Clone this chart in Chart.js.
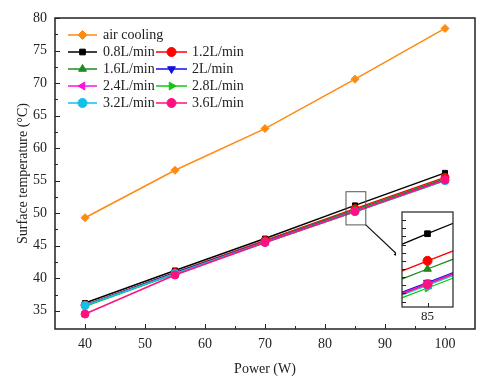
<!DOCTYPE html>
<html lang="en">
<head>
  <meta charset="UTF-8" />
  <title>Surface temperature vs power</title>
  <script src="https://cdn.jsdelivr.net/npm/chart.js@4.4.1/dist/chart.umd.min.js"></script>
  <style>
    body { margin: 0; background: #fff; }
    #wrap { position: relative; width: 483px; height: 384px; }
    #main { position: absolute; left: 0; top: 0; }
    #inset { position: absolute; left: 396px; top: 206px; background: #fff; }
  </style>
</head>
<body>
<div id="wrap">
  <canvas id="main" width="483" height="384"></canvas>
  <canvas id="inset" width="64" height="120"></canvas>
</div>
<script>
  // data
  const power = [40, 55, 70, 85, 100];
  const seriesNames = ['air cooling', '0.8L/min', '1.2L/min', '1.6L/min', '2L/min',
                       '2.4L/min', '2.8L/min', '3.2L/min', '3.6L/min'];
  const airCooling = [49.3, 56.6, 63.0, 70.6, 78.4];
  const flow08 = [36.2, 41.2, 46.1, 51.2, 56.2];
  const flow12 = [35.9, 40.9, 45.8, 50.7, 55.5];
  const flow16 = [35.8, 40.8, 45.7, 50.55, 55.3];
  const flow20 = [35.8, 40.8, 45.6, 50.3, 55.1];
  const flow24 = [35.8, 40.7, 45.6, 50.28, 55.1];
  const flow28 = [35.7, 40.7, 45.5, 50.2, 55.0];
  const flow32 = [35.8, 40.7, 45.5, 50.25, 55.0];
  const flow36 = [34.5, 40.5, 45.5, 50.27, 55.1];

  const xTicks = [40, 50, 60, 70, 80, 90, 100];
  const xMinor = [45, 55, 65, 75, 85, 95];
  const yTicks = [35, 40, 45, 50, 55, 60, 65, 70, 75, 80];
  const yMinor = [37.5, 42.5, 47.5, 52.5, 57.5, 62.5, 67.5, 72.5, 77.5];
  const insetXTicks = [85];
  const insetYTicks = [49.95, 50.1, 50.25, 50.4, 50.55, 50.7, 50.85, 51.0, 51.15, 51.3, 51.45];

  const values = [airCooling, flow08, flow12, flow16, flow20, flow24, flow28, flow32, flow36];
  const colors = ['#ff8a10', '#000000', '#ff0000', '#1f8a1f', '#1010e0',
                  '#ff10e0', '#10c810', '#10c0e8', '#ff1080'];
  const styles = ['rectRot', 'rect', 'circle', 'triangle', 'triangle',
                  'triangle', 'triangle', 'circle', 'circle'];
  const rotations = [0, 0, 0, 0, 180, 270, 90, 0, 0];

  const serif = "'Liberation Serif', 'Times New Roman', serif";
  Chart.defaults.font.family = serif;
  Chart.defaults.color = '#222';

  function makeDatasets(radius, width) {
    return seriesNames.map((name, i) => ({
      label: name,
      data: power.map((p, j) => ({ x: p, y: values[i][j] })),
      borderColor: colors[i],
      backgroundColor: colors[i],
      pointBackgroundColor: colors[i],
      pointBorderColor: colors[i],
      pointStyle: styles[i],
      pointRotation: rotations[i],
      pointRadius: styles[i] === 'rect' ? radius - 0.5 : radius,
      pointBorderWidth: 1,
      borderWidth: width,
      order: seriesNames.length - i,
      clip: 0
    }));
  }

  // box frame + inward tick marks
  const frameTicks = {
    id: 'frameTicks',
    afterDraw(chart, args, o) {
      const { ctx, chartArea: a, scales: { x, y } } = chart;
      ctx.save();
      ctx.strokeStyle = '#222';
      ctx.lineWidth = o.lineWidth;
      ctx.strokeRect(a.left, a.top, a.right - a.left, a.bottom - a.top);
      ctx.lineWidth = 1;
      ctx.beginPath();
      const xt = (list, len) => list.forEach(v => {
        const px = Math.round(x.getPixelForValue(v)) + 0.5;
        ctx.moveTo(px, a.bottom); ctx.lineTo(px, a.bottom - len);
      });
      const yt = (list, len) => list.forEach(v => {
        const py = Math.round(y.getPixelForValue(v)) + 0.5;
        ctx.moveTo(a.left, py); ctx.lineTo(a.left + len, py);
      });
      xt(o.xMajor, o.major); xt(o.xMinor, o.minor);
      yt(o.yMajor, o.major); yt(o.yMinor, o.minor);
      ctx.stroke();
      ctx.restore();
    }
  };

  function drawMarker(ctx, i, x, y, r) {
    ctx.fillStyle = colors[i];
    ctx.strokeStyle = colors[i];
    ctx.lineWidth = 1;
    Chart.helpers.drawPoint(ctx, {
      pointStyle: styles[i], rotation: rotations[i],
      radius: styles[i] === 'rect' ? r - 0.5 : r, borderWidth: 1
    }, x, y);
  }

  // legend, zoom box and arrow
  const extras = {
    id: 'extras',
    afterDraw(chart) {
      const { ctx, scales: { x, y } } = chart;
      ctx.save();
      const rows = [[0], [1, 2], [3, 4], [5, 6], [7, 8]];
      const rowY = [35, 52, 69, 86, 103];
      const colX = [[68, 97, 103], [156, 187, 192]];
      ctx.font = '14px ' + serif;
      ctx.textBaseline = 'middle';
      rows.forEach((row, r) => {
        row.forEach((i, c) => {
          const [x0, x1, tx] = colX[c];
          ctx.strokeStyle = colors[i];
          ctx.lineWidth = 1.5;
          ctx.beginPath();
          ctx.moveTo(x0, rowY[r]); ctx.lineTo(x1, rowY[r]);
          ctx.stroke();
          drawMarker(ctx, i, (x0 + x1) / 2, rowY[r], 4.5);
          ctx.fillStyle = '#222';
          ctx.fillText(seriesNames[i], tx, rowY[r]);
        });
      });

      // zoom region box around the 85 W cluster
      const bx0 = x.getPixelForValue(83.5), bx1 = x.getPixelForValue(86.8);
      const by0 = y.getPixelForValue(53.3), by1 = y.getPixelForValue(48.2);
      ctx.strokeStyle = '#555';
      ctx.lineWidth = 1;
      ctx.strokeRect(bx0, by0, bx1 - bx0, by1 - by0);

      // arrow to the inset
      const ax = 401, ay = 258;
      ctx.strokeStyle = '#111';
      ctx.fillStyle = '#111';
      ctx.lineWidth = 1.2;
      ctx.beginPath();
      ctx.moveTo(bx1, by1); ctx.lineTo(ax, ay);
      ctx.stroke();
      const ang = Math.atan2(ay - by1, ax - bx1);
      ctx.beginPath();
      ctx.moveTo(ax, ay);
      ctx.lineTo(ax - 8 * Math.cos(ang - 0.35), ay - 8 * Math.sin(ang - 0.35));
      ctx.lineTo(ax - 8 * Math.cos(ang + 0.35), ay - 8 * Math.sin(ang + 0.35));
      ctx.closePath();
      ctx.fill();
      ctx.restore();
    }
  };

  new Chart(document.getElementById('main'), {
    type: 'line',
    data: { datasets: makeDatasets(4, 1.5) },
    plugins: [frameTicks, extras],
    options: {
      responsive: false,
      animation: false,
      layout: { padding: { top: 18, right: 8, left: 0, bottom: 0 } },
      plugins: {
        legend: { display: false },
        tooltip: { enabled: false },
        frameTicks: { lineWidth: 1.5, major: 5, minor: 3,
                      xMajor: xTicks, xMinor: xMinor, yMajor: yTicks, yMinor: yMinor }
      },
      scales: {
        x: {
          type: 'linear', min: 35, max: 105,
          afterBuildTicks: s => { s.ticks = xTicks.map(v => ({ value: v })); },
          afterFit: s => { s.height = 55; },
          grid: { display: false, drawTicks: false },
          border: { display: false },
          ticks: { font: { size: 14 }, padding: 7, maxRotation: 0 },
          title: { display: true, text: 'Power (W)', font: { size: 14 }, padding: { top: 0, bottom: 6 } }
        },
        y: {
          type: 'linear', min: 32.2, max: 80,
          afterBuildTicks: s => { s.ticks = yTicks.map(v => ({ value: v })); },
          afterFit: s => { s.width = 55; },
          grid: { display: false, drawTicks: false },
          border: { display: false },
          ticks: { font: { size: 14 }, padding: 8 },
          title: { display: true, text: 'Surface temperature (°C)', font: { size: 14 }, padding: { top: 15, bottom: 0 } }
        }
      }
    }
  });

  new Chart(document.getElementById('inset'), {
    type: 'line',
    data: { datasets: makeDatasets(4.5, 1.3) },
    plugins: [frameTicks],
    options: {
      responsive: false,
      animation: false,
      layout: { padding: { top: 6, right: 7, left: 6, bottom: 0 } },
      plugins: {
        legend: { display: false },
        tooltip: { enabled: false },
        frameTicks: { lineWidth: 1.2, major: 4, minor: 3,
                      xMajor: insetXTicks, xMinor: [], yMajor: insetYTicks, yMinor: [] }
      },
      scales: {
        x: {
          type: 'linear', min: 84.43, max: 85.57,
          afterBuildTicks: s => { s.ticks = insetXTicks.map(v => ({ value: v })); },
          afterFit: s => { s.height = 19; },
          grid: { display: false, drawTicks: false },
          border: { display: false },
          ticks: { font: { size: 13 }, padding: 2, maxRotation: 0 }
        },
        y: {
          type: 'linear', min: 49.85, max: 51.6, display: false
        }
      }
    }
  });
</script>
</body>
</html>
